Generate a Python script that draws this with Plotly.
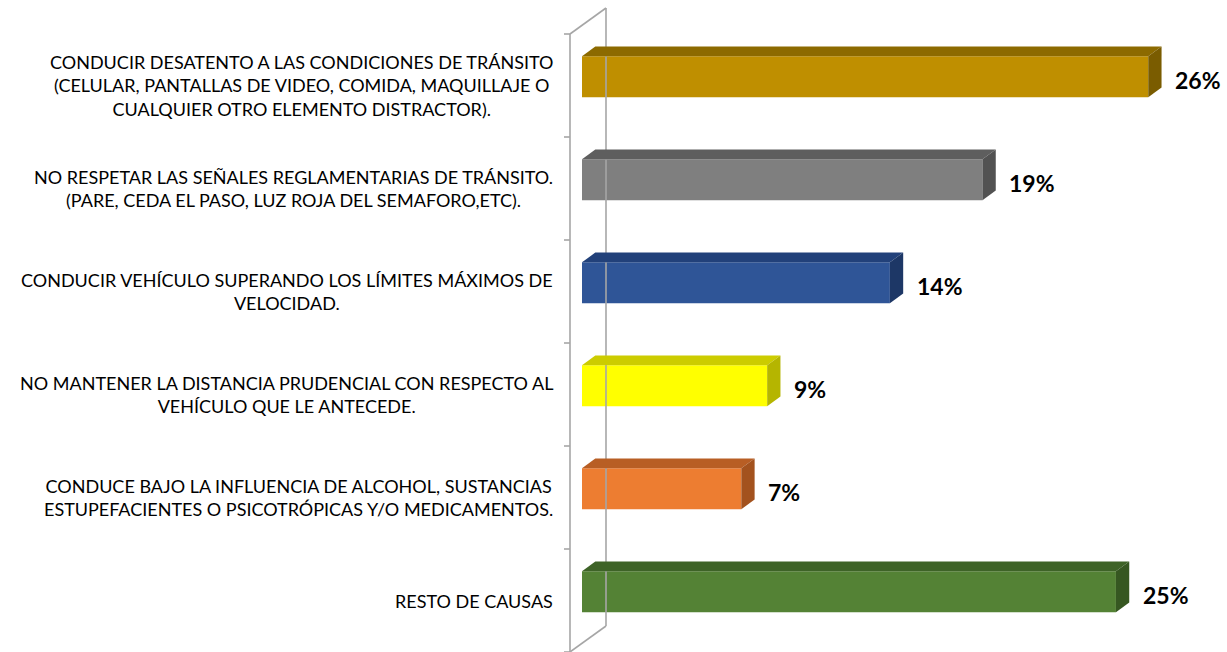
import plotly.graph_objects as go

# ---------------- data ----------------
categories = [
    "CONDUCIR DESATENTO A LAS CONDICIONES DE TRÁNSITO\n(CELULAR, PANTALLAS DE VIDEO, COMIDA, MAQUILLAJE O\nCUALQUIER OTRO ELEMENTO DISTRACTOR).",
    "NO RESPETAR LAS SEÑALES REGLAMENTARIAS DE TRÁNSITO.\n(PARE, CEDA EL PASO, LUZ ROJA DEL SEMAFORO,ETC).",
    "CONDUCIR VEHÍCULO SUPERANDO LOS LÍMITES MÁXIMOS DE\nVELOCIDAD.",
    "NO MANTENER LA DISTANCIA PRUDENCIAL CON RESPECTO AL\nVEHÍCULO QUE LE ANTECEDE.",
    "CONDUCE BAJO LA INFLUENCIA DE ALCOHOL, SUSTANCIAS\nESTUPEFACIENTES O PSICOTRÓPICAS Y/O MEDICAMENTOS.",
    "RESTO DE CAUSAS",
]
values = [26.3, 18.6, 14.3, 8.6, 7.4, 24.8]
front_colors = ["#BF8F00", "#7F7F7F", "#2F5597", "#FFFF00", "#ED7D31", "#548235"]
top_colors = ["#8C6A00", "#5E5E5E", "#22417A", "#CCCC00", "#B85E24", "#3E6327"]
side_colors = ["#7A5C00", "#525252", "#1D3766", "#B5B500", "#A3521E", "#365721"]

# ---------------- geometry / style ----------------
W, H = 1227, 652
PX_PER_PCT = 21.53
PX_PER_CAT = 103.0
WALL_X_PX = 570
PLOT_LEFT_PX = 555
TOP_PX = 34

def xpx(px):  # pixel offset -> x units
    return px / PX_PER_PCT

def ypx(px):  # pixel offset -> category units
    return px / PX_PER_CAT

WALL_DX, WALL_DY = xpx(36), -ypx(26)
BAR_X0, BAR_DY0 = xpx(12), -ypx(8.7)
BAR_DX, BAR_DY = xpx(13.3), -ypx(9.7)
BAR_H = ypx(41)
n = len(categories)

fig = go.Figure()

wall_col = "#A6A6A6"
# wall: front edge, back edge, top and bottom connectors
wx = [0, 0, None, WALL_DX, WALL_DX, None, 0, WALL_DX, None, 0, WALL_DX]
wy = [0, n, None, WALL_DY, n + WALL_DY, None, 0, WALL_DY, None, n, n + WALL_DY]
# tick marks
for k in range(n + 1):
    wx += [None, -xpx(6), 0]
    wy += [None, k, k]
fig.add_trace(go.Scatter(x=wx, y=wy, mode="lines", line=dict(color=wall_col, width=1.6),
                         hoverinfo="skip", showlegend=False))

centers = [i + 0.5 + BAR_DY0 for i in range(n)]

# front faces
fig.add_trace(go.Bar(
    orientation="h", x=values, y=centers, base=[BAR_X0] * n, width=BAR_H,
    marker=dict(color=front_colors, line=dict(width=0)), showlegend=False, hoverinfo="skip",
))

for i, v in enumerate(values):
    yt = centers[i] - BAR_H / 2
    yb = centers[i] + BAR_H / 2
    x0 = BAR_X0
    x1 = BAR_X0 + v
    # top face
    fig.add_trace(go.Scatter(
        x=[x0, x1, x1 + BAR_DX, x0 + BAR_DX, x0],
        y=[yt, yt, yt + BAR_DY, yt + BAR_DY, yt],
        mode="lines", fill="toself", fillcolor=top_colors[i], line=dict(width=0, color=top_colors[i]),
        hoverinfo="skip", showlegend=False))
    # side face
    fig.add_trace(go.Scatter(
        x=[x1, x1 + BAR_DX, x1 + BAR_DX, x1, x1],
        y=[yt, yt + BAR_DY, yb + BAR_DY, yb, yt],
        mode="lines", fill="toself", fillcolor=side_colors[i], line=dict(width=0, color=side_colors[i]),
        hoverinfo="skip", showlegend=False))
    # value label
    fig.add_annotation(
        x=x1 + xpx(25), y=i + 0.4466, xref="x", yref="y", xanchor="left", yanchor="middle",
        text=f"<b>{round(v)}%</b>", showarrow=False,
        font=dict(family="Lato", size=23, color="#000000"))

# category labels
for i, c in enumerate(categories):
    fig.add_annotation(
        x=-xpx(WALL_X_PX - 555), y=i + 0.5, xref="x", yref="y", xanchor="right", yanchor="middle",
        text=c.replace("\n", "<br>"), align="center", showarrow=False,
        font=dict(family="Lato", size=18, color="#000000"))

fig.update_layout(
    width=W, height=H, margin=dict(l=PLOT_LEFT_PX, r=0, t=0, b=0, pad=0),
    paper_bgcolor="white", plot_bgcolor="white",
    xaxis=dict(range=[-xpx(WALL_X_PX - PLOT_LEFT_PX), xpx(W - WALL_X_PX)], visible=False, fixedrange=True),
    yaxis=dict(range=[ypx(H - TOP_PX), -ypx(TOP_PX)], visible=False, fixedrange=True),
    showlegend=False,
)

fig.write_html("out.html")
